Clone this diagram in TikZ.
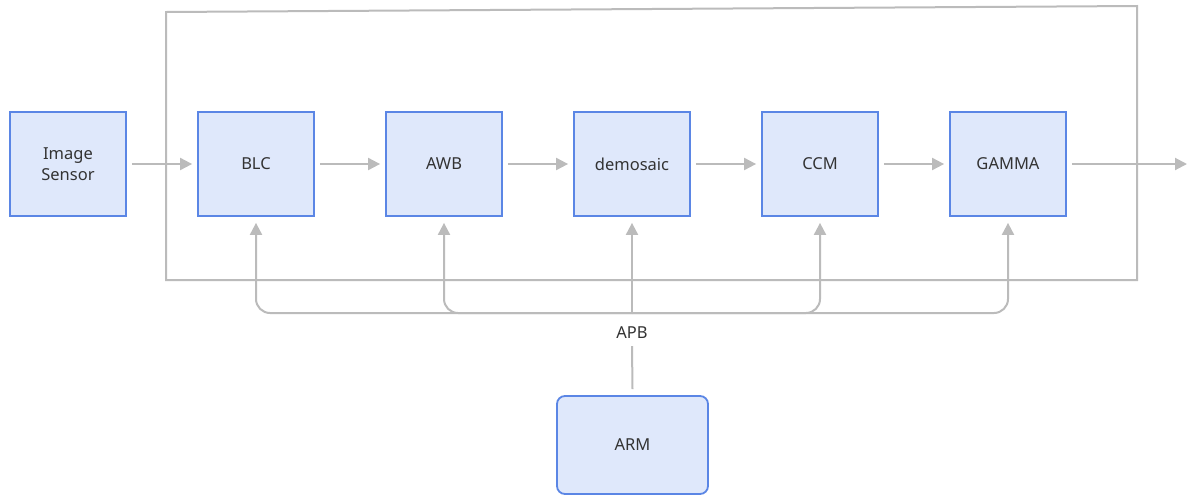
\documentclass[tikz,border=0pt]{standalone}
\usepackage{fontspec}
\setmainfont{Noto Sans}
\usetikzlibrary{arrows.meta}
\definecolor{boxfill}{HTML}{DFE8FB}
\definecolor{boxdraw}{HTML}{5B86E5}
\definecolor{linegray}{HTML}{BBBBBB}
\definecolor{txt}{HTML}{333333}
\begin{document}
\begin{tikzpicture}[x=1pt,y=-1pt,
  blk/.style={draw=boxdraw,fill=boxfill,line width=1.8pt,minimum width=116pt,minimum height=104pt,inner sep=0pt,font=\fontsize{16.5}{21}\selectfont,text=txt,align=center},
  conn/.style={draw=linegray,line width=2pt},
  arr/.style={conn,-{Triangle[length=12pt,width=12pt]}}]
\useasboundingbox (0,0) rectangle (1187,496);
\draw[conn] (166,12) -- (1137,6) -- (1137,280) -- (166,280) -- cycle;
\node[blk] (sensor) at (68,164) {Image\\Sensor};
\node[blk] (blc) at (256,164) {BLC};
\node[blk] (awb) at (444,164) {AWB};
\node[blk] (dem) at (632,164) {demosaic};
\node[blk] (ccm) at (820,164) {CCM};
\node[blk] (gam) at (1008,164) {GAMMA};
\node[blk,rounded corners=8pt,minimum width=151pt,minimum height=98pt] (arm) at (632.5,445) {ARM};
\node[font=\fontsize{16.5}{21}\selectfont,text=txt,inner sep=2pt] (apb) at (632,333) {APB};
\coordinate (out) at (1187,164);
\coordinate (bus) at (632,313);
\draw[arr] ([xshift=5pt]sensor.east) -- ([xshift=-5pt]blc.west);
\draw[arr] ([xshift=5pt]blc.east) -- ([xshift=-5pt]awb.west);
\draw[arr] ([xshift=5pt]awb.east) -- ([xshift=-5pt]dem.west);
\draw[arr] ([xshift=5pt]dem.east) -- ([xshift=-5pt]ccm.west);
\draw[arr] ([xshift=5pt]ccm.east) -- ([xshift=-5pt]gam.west);
\draw[arr] ([xshift=5pt]gam.east) -- (out);
\draw[arr,rounded corners=14pt] (bus) -| ([yshift=-6pt]blc.south);
\draw[arr,rounded corners=14pt] (bus) -| ([yshift=-6pt]awb.south);
\draw[arr] (bus) -- ([yshift=-6pt]dem.south);
\draw[arr,rounded corners=14pt] (bus) -| ([yshift=-6pt]ccm.south);
\draw[arr,rounded corners=14pt] (bus) -| ([yshift=-6pt]gam.south);
\draw[conn] ([yshift=6pt]arm.north) -- ([yshift=-5pt]apb.south);
\end{tikzpicture}
\end{document}
